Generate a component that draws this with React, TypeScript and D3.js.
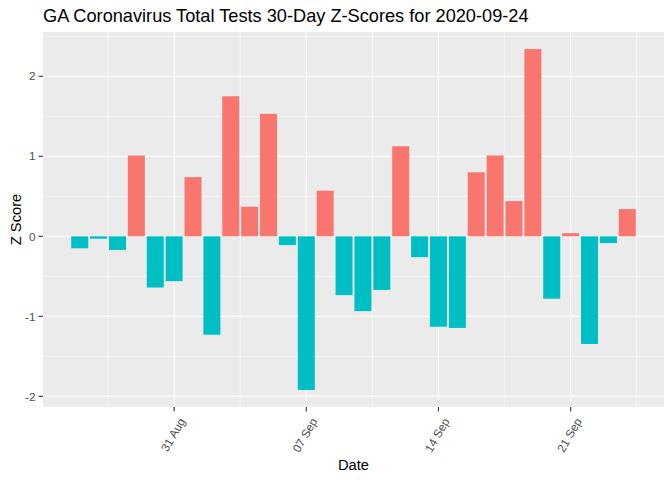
import React, { useEffect, useRef } from 'react';
import * as d3 from 'd3';

// Daily z-scores, 2020-08-26 .. 2020-09-24
const startDate = '2020-08-26';
const zScores = [
  -0.15, -0.03, -0.17, 1.01, -0.64, -0.56, 0.74, -1.23, 1.75, 0.37,
  1.53, -0.11, -1.92, 0.57, -0.735, -0.935, -0.67, 1.125, -0.26, -1.13,
  -1.145, 0.80, 1.01, 0.44, 2.34, -0.78, 0.04, -1.345, -0.085, 0.34,
];
const yTicks = [-2, -1, 0, 1, 2];
const yMinor = [-1.5, -0.5, 0.5, 1.5, 2.5];
const xTickDates = ['2020-08-31', '2020-09-07', '2020-09-14', '2020-09-21'];
const xMinorDates = ['2020-08-27T12:00', '2020-09-03T12:00', '2020-09-10T12:00', '2020-09-17T12:00', '2020-09-24T12:00'];

const DAY = 24 * 3600 * 1000;
const parse = (s: string) => new Date(s.length > 10 ? s + ':00Z' : s + 'T00:00:00Z');

const App: React.FC = () => {
  const svgRef = useRef<SVGSVGElement>(null);

  useEffect(() => {
    if (!svgRef.current) return;
    const svg = d3.select(svgRef.current);
    svg.selectAll('*').remove();

    const W = 672, H = 480;
    const panel = { left: 43, right: 664, top: 32, bottom: 407 };
    const font = '"Liberation Sans", Arial, sans-serif';

    const t0 = parse(startDate).getTime();
    const data = zScores.map((v, i) => ({ date: new Date(t0 + i * DAY), value: v }));

    // ggplot-style expansion: bar width 0.9 day, 5% padding each side
    const xLo = t0 - 0.45 * DAY;
    const xHi = t0 + (data.length - 1) * DAY + 0.45 * DAY;
    const xPad = (xHi - xLo) * 0.05;
    const x = d3.scaleUtc()
      .domain([new Date(xLo - xPad), new Date(xHi + xPad)])
      .range([panel.left, panel.right]);

    const yExt = d3.extent(zScores) as [number, number];
    const yPad = (yExt[1] - yExt[0]) * 0.05;
    const y = d3.scaleLinear()
      .domain([yExt[0] - yPad, yExt[1] + yPad])
      .range([panel.bottom, panel.top]);

    svg.attr('width', W).attr('height', H);

    svg.append('rect')
      .attr('x', panel.left).attr('y', panel.top)
      .attr('width', panel.right - panel.left)
      .attr('height', panel.bottom - panel.top)
      .attr('fill', '#EBEBEB');

    const grid = svg.append('g');
    // minor grid
    grid.selectAll('line.ym').data(yMinor.filter(v => y(v) >= panel.top)).join('line')
      .attr('x1', panel.left).attr('x2', panel.right)
      .attr('y1', d => y(d)).attr('y2', d => y(d))
      .attr('stroke', 'white').attr('stroke-width', 0.55);
    grid.selectAll('line.xm').data(xMinorDates.map(parse)).join('line')
      .attr('y1', panel.top).attr('y2', panel.bottom)
      .attr('x1', d => x(d)).attr('x2', d => x(d))
      .attr('stroke', 'white').attr('stroke-width', 0.55);
    // major grid
    grid.selectAll('line.yM').data(yTicks).join('line')
      .attr('x1', panel.left).attr('x2', panel.right)
      .attr('y1', d => y(d)).attr('y2', d => y(d))
      .attr('stroke', 'white').attr('stroke-width', 1.1);
    grid.selectAll('line.xM').data(xTickDates.map(parse)).join('line')
      .attr('y1', panel.top).attr('y2', panel.bottom)
      .attr('x1', d => x(d)).attr('x2', d => x(d))
      .attr('stroke', 'white').attr('stroke-width', 1.1);

    // bars
    const bw = x(new Date(t0 + 0.9 * DAY)) - x(new Date(t0));
    svg.append('g').selectAll('rect').data(data).join('rect')
      .attr('x', d => x(d.date) - bw / 2)
      .attr('width', bw)
      .attr('y', d => y(Math.max(0, d.value)))
      .attr('height', d => Math.abs(y(d.value) - y(0)))
      .attr('fill', d => (d.value > 0 ? '#F8766D' : '#00BFC4'));

    // y axis
    const ya = svg.append('g');
    ya.selectAll('line').data(yTicks).join('line')
      .attr('x1', panel.left - 4.4).attr('x2', panel.left)
      .attr('y1', d => y(d)).attr('y2', d => y(d))
      .attr('stroke', '#333333').attr('stroke-width', 1.1);
    ya.selectAll('text').data(yTicks).join('text')
      .attr('x', panel.left - 7.5).attr('y', d => y(d))
      .attr('dy', '0.36em')
      .attr('text-anchor', 'end')
      .attr('font-family', font).attr('font-size', 11.7)
      .attr('fill', '#4D4D4D')
      .text(d => d3.format('d')(d).replace('−', '-'));

    // x axis
    const fmt = d3.utcFormat('%d %b');
    const xa = svg.append('g');
    xa.selectAll('line').data(xTickDates.map(parse)).join('line')
      .attr('x1', d => x(d)).attr('x2', d => x(d))
      .attr('y1', panel.bottom).attr('y2', panel.bottom + 4.4)
      .attr('stroke', '#333333').attr('stroke-width', 1.1);
    xa.selectAll('text').data(xTickDates.map(parse)).join('text')
      .attr('transform', d => `translate(${x(d) + 8},${panel.bottom + 12}) rotate(-60)`)
      .attr('text-anchor', 'end')
      .attr('dy', '0.35em')
      .attr('font-family', font).attr('font-size', 11.7)
      .attr('fill', '#4D4D4D')
      .text(d => fmt(d));

    // titles
    svg.append('text')
      .attr('x', (panel.left + panel.right) / 2).attr('y', 470)
      .attr('text-anchor', 'middle')
      .attr('font-family', font).attr('font-size', 14.7)
      .attr('fill', 'black')
      .text('Date');

    svg.append('text')
      .attr('transform', `translate(20.5,${(panel.top + panel.bottom) / 2}) rotate(-90)`)
      .attr('text-anchor', 'middle')
      .attr('font-family', font).attr('font-size', 14.7)
      .attr('fill', 'black')
      .text('Z Score');

    svg.append('text')
      .attr('x', panel.left).attr('y', 22)
      .attr('font-family', font).attr('font-size', 18.2)
      .attr('fill', 'black')
      .text('GA Coronavirus Total Tests 30-Day Z-Scores for 2020-09-24');
  }, []);

  return (
    <div style={{ position: 'absolute', left: 0, top: 0, width: 672, height: 480, background: 'white' }}>
      <svg ref={svgRef} style={{ display: 'block' }}></svg>
    </div>
  );
};

export default App;
